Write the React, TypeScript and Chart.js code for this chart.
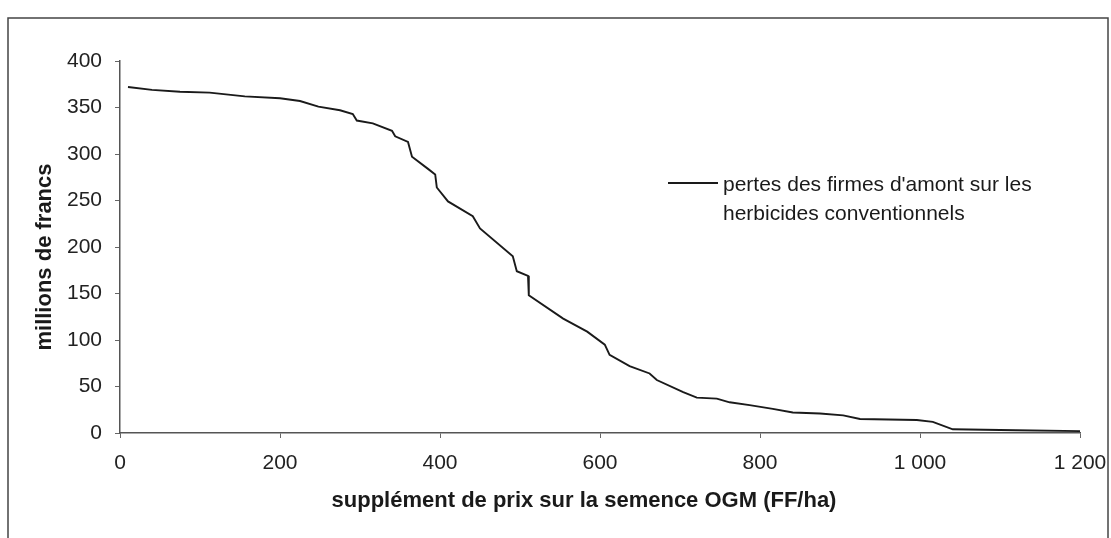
import React, { useEffect, useRef } from "react";
import { Chart, registerables } from "chart.js";

Chart.register(...registerables);

// Supplement price on GMO seed (FF/ha)
const supplement = [10, 40, 75, 112, 156, 200, 225, 248, 275, 291, 296, 316, 340, 344, 360, 365, 385, 394, 396, 410, 441, 450, 491, 496, 510, 511, 554, 584, 606, 612, 637, 662, 671, 704, 721, 746, 762, 787, 816, 841, 875, 904, 925, 996, 1016, 1041, 1120, 1200];
// Losses of upstream firms (millions de francs)
const pertes = [372, 369, 367, 366, 362, 360, 357, 351, 347, 343, 336, 333, 325, 319, 313, 297, 284, 278, 264, 249, 233, 220, 190, 174, 169, 148, 123, 109, 95, 84, 72, 64, 57, 44, 38, 37, 33, 30, 26, 22, 21, 19, 15, 14, 12, 4, 3, 2];

const xTickValues = [0, 200, 400, 600, 800, 1000, 1200];
const yTickValues = [0, 50, 100, 150, 200, 250, 300, 350, 400];

const seriesLabel = ["pertes des firmes d'amont sur les", "herbicides conventionnels"];
const xTitle = "supplément de prix sur la semence OGM (FF/ha)";
const yTitle = "millions de francs";

const FONT = "'Liberation Sans', Arial, sans-serif";

const fmt = (v: number) => String(v).replace(/\B(?=(\d{3})+(?!\d))/g, " ");

export default function App() {
  const ref = useRef<HTMLCanvasElement | null>(null);

  useEffect(() => {
    if (!ref.current) return;
    const decorPlugin = {
      id: "frameTitlesLegend",
      afterDraw(chart: any) {
        const ctx = chart.ctx;
        ctx.save();
        // outer frame
        ctx.strokeStyle = "#444";
        ctx.lineWidth = 1.5;
        ctx.strokeRect(8, 18, 1100, 530);
        // axis titles
        ctx.fillStyle = "#1a1a1a";
        ctx.textAlign = "center";
        ctx.textBaseline = "middle";
        ctx.font = `bold 22px ${FONT}`;
        ctx.fillText(xTitle, 584, 501);
        ctx.save();
        ctx.translate(45, 257);
        ctx.rotate(-Math.PI / 2);
        ctx.font = `bold 22px ${FONT}`;
        ctx.fillText(yTitle, 0, 0);
        ctx.restore();
        // legend
        ctx.strokeStyle = "#1a1a1a";
        ctx.lineWidth = 1.8;
        ctx.beginPath();
        ctx.moveTo(668, 183);
        ctx.lineTo(718, 183);
        ctx.stroke();
        ctx.font = `21px ${FONT}`;
        ctx.textAlign = "left";
        ctx.fillText(seriesLabel[0], 723, 185);
        ctx.fillText(seriesLabel[1], 723, 214);
        ctx.restore();
      },
    };

    const chart = new Chart(ref.current, {
      type: "line",
      data: {
        datasets: [
          {
            label: seriesLabel.join(" "),
            data: supplement.map((x, i) => ({ x, y: pertes[i] })),
            borderColor: "#1a1a1a",
            borderWidth: 1.9,
            pointRadius: 0,
            tension: 0,
            fill: false,
          },
        ],
      },
      options: {
        animation: false,
        responsive: false,
        layout: { padding: { left: 0, top: 61, right: 31, bottom: 0 } },
        plugins: { legend: { display: false }, tooltip: { enabled: false } },
        scales: {
          x: {
            type: "linear",
            min: 0,
            max: 1200,
            afterBuildTicks: (s: any) => {
              s.ticks = xTickValues.map((v) => ({ value: v }));
            },
            afterFit: (s: any) => {
              s.height = 105;
              s.paddingLeft = 0;
              s.paddingRight = 0;
            },
            ticks: {
              color: "#222",
              font: { family: FONT, size: 21 },
              padding: 13,
              maxRotation: 0,
              autoSkip: false,
              callback: (v: any) => fmt(Number(v)),
            },
            grid: { drawOnChartArea: false, drawTicks: true, tickLength: 5, color: "#666" },
            border: { display: true, color: "#555", width: 1.5 },
            title: { display: false },
          },
          y: {
            type: "linear",
            min: 0,
            max: 400,
            afterBuildTicks: (s: any) => {
              s.ticks = yTickValues.map((v) => ({ value: v }));
            },
            afterFit: (s: any) => {
              s.width = 120;
              s.paddingTop = 0;
              s.paddingBottom = 0;
            },
            ticks: {
              color: "#222",
              font: { family: FONT, size: 21 },
              padding: 13,
              autoSkip: false,
              callback: (v: any) => fmt(Number(v)),
            },
            grid: { drawOnChartArea: false, drawTicks: true, tickLength: 5, color: "#666" },
            border: { display: true, color: "#555", width: 1.5 },
            title: { display: false },
          },
        },
      },
      plugins: [decorPlugin],
    } as any);
    return () => chart.destroy();
  }, []);

  return (
    <div style={{ position: "absolute", left: 0, top: 0, width: 1111, height: 538, background: "#fff" }}>
      <canvas ref={ref} width={1111} height={538} />
    </div>
  );
}
